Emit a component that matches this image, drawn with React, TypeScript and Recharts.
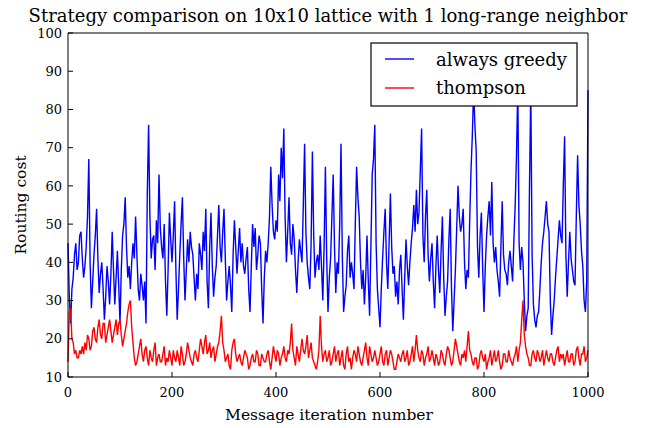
import React from 'react';
import { LineChart, Line, XAxis, YAxis, Legend } from 'recharts';

const STEP = 2.5;
const greedy: number[] = [
  45, 31, 24, 33, 36, 42, 45, 38, 40, 47, 48, 41, 36, 39, 44, 52, 67, 40, 28, 35,
  42, 47, 54, 41, 32, 37, 40, 33, 25, 31, 39, 35, 29, 37, 48, 38, 29, 36, 43, 34,
  24, 38, 47, 50, 57, 44, 36, 39, 33, 40, 45, 41, 52, 42, 33, 30, 37, 34, 30, 35,
  24, 58, 76, 52, 41, 46, 47, 38, 51, 45, 63, 49, 44, 41, 50, 35, 26, 38, 53, 46,
  40, 47, 56, 38, 25, 33, 42, 50, 57, 41, 30, 38, 46, 40, 48, 44, 42, 36, 30, 37,
  33, 45, 42, 38, 48, 43, 54, 35, 28, 44, 53, 39, 31, 36, 39, 47, 55, 44, 40, 48,
  54, 41, 30, 35, 39, 34, 27, 42, 51, 44, 37, 43, 49, 40, 45, 39, 37, 41, 44, 33,
  27, 39, 50, 44, 49, 38, 42, 47, 45, 33, 24, 36, 43, 40, 45, 52, 65, 55, 48, 46,
  51, 48, 63, 56, 70, 62, 75, 52, 40, 48, 57, 45, 42, 50, 46, 38, 32, 40, 46, 43,
  40, 55, 71, 48, 40, 36, 33, 45, 69, 47, 36, 40, 42, 38, 47, 39, 30, 44, 65, 41,
  27, 36, 41, 52, 63, 44, 32, 40, 37, 50, 71, 42, 27, 31, 34, 43, 47, 36, 40, 37,
  33, 50, 65, 57, 52, 40, 33, 38, 29, 36, 47, 35, 26, 44, 63, 67, 76, 45, 33, 28,
  23, 33, 41, 48, 54, 40, 33, 45, 58, 44, 37, 39, 31, 35, 29, 38, 42, 33, 25, 36,
  46, 39, 34, 40, 45, 49, 55, 48, 59, 50, 53, 64, 75, 47, 40, 52, 59, 42, 35, 41,
  45, 35, 28, 39, 47, 38, 32, 43, 52, 36, 26, 31, 35, 46, 54, 33, 22, 30, 38, 49,
  60, 52, 48, 50, 54, 40, 33, 38, 36, 51, 64, 73, 85, 76, 69, 44, 36, 47, 53, 38,
  27, 39, 47, 52, 56, 47, 61, 45, 40, 44, 38, 35, 31, 44, 56, 42, 38, 37, 34, 40,
  43, 39, 35, 46, 55, 68, 86, 45, 38, 44, 40, 30, 22, 26, 28, 60, 85, 42, 29, 25,
  23, 26, 27, 33, 40, 45, 48, 52, 56, 50, 48, 30, 21, 26, 30, 36, 41, 46, 51, 47,
  45, 60, 73, 42, 31, 40, 48, 41, 38, 35, 34, 52, 68, 55, 50, 43, 39, 30, 27, 35,
  85,
];
const thompson: number[] = [
  14, 27, 28, 20, 19, 16, 17, 15, 15, 17, 16, 18, 16, 19, 17, 21, 20, 17, 18, 22,
  23, 20, 19, 23, 25, 21, 20, 24, 24, 19, 21, 23, 25, 22, 19, 21, 23, 25, 21, 24,
  25, 21, 18, 20, 22, 24, 27, 29, 30, 23, 19, 15, 13, 14, 16, 18, 20, 16, 14, 17,
  18, 15, 13, 17, 15, 14, 17, 19, 13, 15, 16, 14, 14, 16, 18, 13, 15, 14, 17, 15,
  13, 17, 15, 14, 17, 15, 13, 18, 16, 13, 14, 16, 19, 17, 15, 14, 13, 16, 17, 15,
  14, 17, 20, 18, 16, 19, 21, 16, 17, 19, 15, 17, 18, 14, 16, 18, 19, 22, 26, 19,
  17, 14, 15, 16, 13, 12, 17, 19, 20, 16, 14, 15, 16, 14, 13, 15, 17, 16, 15, 12,
  13, 15, 16, 14, 14, 17, 16, 13, 13, 16, 15, 14, 14, 16, 17, 14, 12, 15, 18, 16,
  14, 17, 16, 13, 15, 16, 18, 15, 14, 17, 16, 19, 24, 17, 15, 13, 18, 16, 14, 17,
  20, 17, 16, 18, 21, 15, 17, 19, 15, 14, 13, 12, 14, 17, 26, 18, 14, 16, 17, 14,
  15, 17, 13, 14, 16, 18, 14, 16, 17, 13, 15, 17, 13, 12, 16, 18, 14, 15, 12, 15,
  17, 16, 14, 18, 16, 14, 13, 15, 17, 19, 15, 13, 18, 16, 14, 15, 17, 15, 13, 14,
  16, 18, 14, 13, 16, 17, 13, 15, 17, 16, 14, 12, 12, 14, 16, 15, 14, 16, 17, 14,
  15, 17, 13, 14, 16, 18, 14, 17, 21, 17, 15, 14, 17, 16, 13, 15, 16, 18, 14, 15,
  17, 15, 13, 16, 15, 13, 14, 17, 16, 14, 13, 16, 18, 17, 15, 13, 14, 17, 20, 18,
  16, 14, 13, 16, 15, 17, 14, 18, 22, 17, 16, 14, 13, 15, 15, 12, 13, 16, 17, 15,
  14, 16, 12, 14, 15, 17, 13, 15, 17, 14, 15, 17, 14, 12, 13, 16, 16, 14, 14, 17,
  15, 14, 13, 15, 16, 18, 14, 17, 19, 25, 30, 21, 18, 16, 15, 13, 13, 16, 17, 15,
  14, 17, 16, 14, 15, 17, 13, 15, 17, 15, 14, 16, 16, 14, 13, 15, 17, 18, 14, 16,
  15, 16, 13, 15, 17, 14, 14, 16, 16, 13, 14, 17, 18, 15, 13, 16, 16, 18, 14, 15,
  17,
];
const xTicks = [0, 200, 400, 600, 800, 1000];
const yTicks = [10, 20, 30, 40, 50, 60, 70, 80, 90, 100];
const seriesNames = ['always greedy', 'thompson'];
const seriesColors = ['#0000ff', '#ff0000'];

const rows = greedy.map((g, i) => ({ x: i * STEP, greedy: g, thompson: thompson[i] }));

const FONT = "'DejaVu Serif', serif";

const LegendBox = () => (
  <svg width={209} height={66} style={{ display: 'block' }}>
    <rect x={1} y={1} width={206} height={63} fill="#fff" stroke="#000" strokeWidth={1.2} />
    {seriesNames.map((n, i) => (
      <g key={n}>
        <line x1={15} x2={44} y1={17 + i * 29} y2={17 + i * 29} stroke={seriesColors[i]} strokeWidth={1.4} />
        <text x={66} y={24 + i * 28} fontFamily={FONT} fontSize={18} fill="#000">{n}</text>
      </g>
    ))}
  </svg>
);

export default function App() {
  const axisCommon = { stroke: '#000', tickSize: -5 } as const;
  return (
    <div style={{ position: 'absolute', left: 0, top: 0, width: 647, height: 428, background: '#fff' }}>
      <LineChart width={647} height={428} data={rows} margin={{ top: 32, right: 58, bottom: 1, left: 8 }}>
        <XAxis
          xAxisId="b"
          dataKey="x"
          type="number"
          domain={[0, 1000]}
          ticks={xTicks}
          interval={0}
          orientation="bottom"
          height={50}
          tickMargin={16}
          tick={{ fontFamily: FONT, fontSize: 13, fill: '#000' }}
          {...axisCommon}
        />
        <XAxis
          xAxisId="t"
          dataKey="x"
          type="number"
          domain={[0, 1000]}
          ticks={xTicks}
          interval={0}
          orientation="top"
          height={1}
          tick={false}
          {...axisCommon}
        />
        <YAxis
          yAxisId="l"
          type="number"
          domain={[10, 100]}
          ticks={yTicks}
          interval={0}
          width={60}
          tickMargin={11}
          tick={{ fontFamily: FONT, fontSize: 13, fill: '#000' }}
          {...axisCommon}
        />
        <YAxis
          yAxisId="r"
          type="number"
          orientation="right"
          domain={[10, 100]}
          ticks={yTicks}
          interval={0}
          width={1}
          tick={false}
          {...axisCommon}
        />
        <Line xAxisId="b" yAxisId="l" type="linear" dataKey="greedy" name={seriesNames[0]} stroke={seriesColors[0]} strokeWidth={1.4} dot={false} isAnimationActive={false} />
        <Line xAxisId="b" yAxisId="l" type="linear" dataKey="thompson" name={seriesNames[1]} stroke={seriesColors[1]} strokeWidth={1.4} dot={false} isAnimationActive={false} />
        <Legend
          layout="horizontal"
          verticalAlign="middle"
          align="center"
          content={() => <LegendBox />}
          wrapperStyle={{ left: 370, top: 42, width: 209, height: 66 }}
        />
      </LineChart>
      <svg width={647} height={428} style={{ position: 'absolute', left: 0, top: 0, pointerEvents: 'none' }}>
        <text x={328} y={22} textAnchor="middle" fontFamily={FONT} fontSize={18} fill="#000">
          Strategy comparison on 10x10 lattice with 1 long-range neighbor
        </text>
        <text x={329} y={420} textAnchor="middle" fontFamily={FONT} fontSize={15.5} fill="#000">
          Message iteration number
        </text>
        <text x={26} y={205} textAnchor="middle" fontFamily={FONT} fontSize={15.5} fill="#000" transform="rotate(-90 26 205)">
          Routing cost
        </text>
      </svg>
    </div>
  );
}
